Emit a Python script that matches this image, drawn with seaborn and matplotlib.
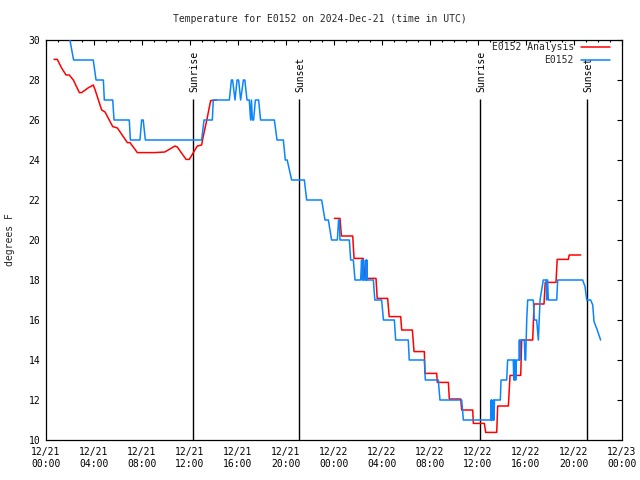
import matplotlib
matplotlib.use("Agg")
import numpy as np
import pandas as pd
import matplotlib.pyplot as plt
from matplotlib.lines import Line2D
import seaborn as sns

# --- data (x = hours since 12/21 00:00 UTC) ---
obs_hours = [1.9, 2.3, 3.94, 4.17, 4.78, 4.86, 5.56, 5.67, 6.94, 7.03, 7.83, 7.97, 8.1, 8.28,
             12.97, 13.17, 13.86, 13.94, 15.28, 15.45, 15.55, 15.75, 15.92, 16.05, 16.22,
             16.45, 16.57, 16.75, 16.94, 17.05, 17.12, 17.2, 17.3, 17.45, 17.72, 17.88,
             19.03, 19.25, 19.78, 19.94, 20.1, 20.47, 21.53, 21.72, 22.97, 23.25, 23.53,
             23.8, 24.28, 24.38, 24.44, 24.5, 25.28, 25.39, 25.61, 25.75, 26.22, 26.3,
             26.34, 26.38, 26.42, 26.46, 26.5, 26.64, 26.67, 26.7, 26.73, 26.77, 27.28,
             27.4, 27.97, 28.12, 29.03, 29.14, 30.19, 30.27, 31.53, 31.61, 32.69, 32.83,
             34.64, 34.78, 37.06, 37.09, 37.12, 37.15, 37.18, 37.28, 37.31, 37.34, 37.37,
             37.4, 37.86, 37.92, 38.39, 38.47, 38.94, 38.98, 39.02, 39.06, 39.1, 39.14,
             39.2, 39.42, 39.45, 39.48, 39.52, 39.86, 39.92, 39.97, 40.06, 40.14, 40.61,
             40.69, 40.89, 41.03, 41.17, 41.44, 41.68, 41.72, 41.76, 41.8, 41.86, 42.56,
             42.64, 44.72, 44.92, 45.06, 45.39, 45.56, 45.67, 45.89, 46.22]
obs_temp = [30.3, 29, 29, 28, 28, 27, 27, 26, 26, 25, 25, 26, 26, 25,
            25, 26, 26, 27, 27, 28, 28, 27, 28, 28, 27,
            28, 28, 27, 27, 26, 27, 26, 26, 27, 27, 26,
            26, 25, 25, 24, 24, 23, 23, 22, 22, 21, 21,
            20, 20, 21, 21, 20, 20, 19, 19, 18, 18, 19,
            18, 19, 18, 19, 18, 18, 19, 18, 19, 18, 18,
            17, 17, 16, 16, 15, 15, 14, 14, 13, 13, 12,
            12, 11, 11, 12, 11, 12, 11, 11, 12, 11, 12,
            12, 12, 13, 13, 14, 14, 13, 14, 13, 14, 13,
            14, 14, 15, 14, 15, 15, 14, 14, 16, 17, 17,
            16, 16, 15, 17, 18, 18, 17, 18, 18, 17, 17,
            18, 18, 17.67, 17, 17, 16.75, 15.92, 15.58, 15.0]

ana_hours_a = [0.67, 0.94, 1.3, 1.67, 1.94, 2.28, 2.78, 2.97, 3.5, 3.94, 4.08, 4.64, 4.92,
               5.56, 5.95, 6.78, 7.0, 7.61, 9.08, 9.9, 10.75, 10.94, 11.67, 11.94, 12.28,
               12.61, 12.97, 13.1, 13.4, 13.72, 14.2]
ana_temp_a = [29.03, 29.03, 28.6, 28.25, 28.25, 28.0, 27.37, 27.37, 27.6, 27.75, 27.53, 26.5,
              26.4, 25.67, 25.6, 24.87, 24.87, 24.37, 24.37, 24.4, 24.7, 24.65, 24.03, 24.03,
              24.37, 24.7, 24.75, 25.17, 26.0, 26.97, 27.0]
ana_hours_b = [24.03, 24.5, 24.62, 25.56, 25.67, 26.44, 26.58, 27.5, 27.6, 28.47, 28.6, 29.56,
               29.64, 30.53, 30.67, 31.53, 31.58, 32.56, 32.61, 33.53, 33.61, 34.56, 34.64,
               35.56, 35.61, 36.53, 36.64, 37.56, 37.64, 38.53, 38.67, 39.56, 39.64, 40.56,
               40.67, 41.5, 41.6, 42.5, 42.6, 43.53, 43.6, 44.56]
ana_temp_b = [21.08, 21.08, 20.2, 20.2, 19.08, 19.08, 18.08, 18.08, 17.08, 17.08, 16.17, 16.17,
              15.5, 15.5, 14.42, 14.42, 13.33, 13.33, 12.88, 12.88, 12.05, 12.05, 11.5,
              11.5, 10.83, 10.83, 10.38, 10.38, 11.7, 11.7, 13.23, 13.23, 15.0, 15.0,
              16.8, 16.8, 17.88, 17.88, 19.03, 19.03, 19.25, 19.25]

sun_hours = [12.27, 21.1, 36.18, 45.1]
sun_names = ["Sunrise", "Sunset", "Sunrise", "Sunset"]

tick_hours = list(range(0, 49, 4))
tick_labels = ["12/21\n00:00", "12/21\n04:00", "12/21\n08:00", "12/21\n12:00",
               "12/21\n16:00", "12/21\n20:00", "12/22\n00:00", "12/22\n04:00",
               "12/22\n08:00", "12/22\n12:00", "12/22\n16:00", "12/22\n20:00",
               "12/23\n00:00"]

RED = "#ff0000"
BLUE = "#0a84ff"

sns.set_theme(style="white")
plt.rcParams["font.family"] = ["DejaVu Sans Mono"]

obs = pd.DataFrame({"hour": obs_hours, "temp": obs_temp})
ana = pd.concat([
    pd.DataFrame({"hour": ana_hours_a, "temp": ana_temp_a, "seg": 0}),
    pd.DataFrame({"hour": ana_hours_b, "temp": ana_temp_b, "seg": 1}),
])

fig = plt.figure(figsize=(6.4, 4.8), dpi=100)
ax = fig.add_axes([46 / 640, 40 / 480, 576 / 640, 400 / 480])

# sunrise / sunset markers
for h, name in zip(sun_hours, sun_names):
    ax.vlines(h, 10, 27.05, color="black", lw=1.0, zorder=1)
    ax.text(h + 0.1, 27.4, name, rotation=90, ha="center", va="bottom",
            fontsize=7, color="black")

sns.lineplot(data=ana, x="hour", y="temp", units="seg", estimator=None,
             color=RED, lw=1.1, ax=ax, zorder=2)
sns.lineplot(data=obs, x="hour", y="temp", estimator=None, sort=False,
             color=BLUE, lw=1.1, ax=ax, zorder=3)

ax.set_xlim(0, 48)
ax.set_ylim(10, 30)
ax.set_xticks(tick_hours)
ax.set_xticklabels(tick_labels, linespacing=1.3)
ax.set_xticks(range(0, 49), minor=True)
ax.set_yticks(range(10, 31, 2))
ax.set_xlabel("")
ax.set_ylabel("")
ax.tick_params(axis="both", which="both", direction="in", top=True, right=True,
               labelsize=7, colors="black", width=0.8)
ax.tick_params(axis="both", which="major", length=3.4)
ax.tick_params(axis="x", which="major", pad=5)
ax.tick_params(axis="y", which="major", pad=4)
ax.tick_params(axis="x", which="minor", length=1.6)
for s in ax.spines.values():
    s.set_color("black")
    s.set_linewidth(0.9)

handles = [Line2D([], [], color=RED, lw=1.1), Line2D([], [], color=BLUE, lw=1.1)]
ax.legend(handles, ["E0152 Analysis", "E0152"], loc="upper right",
          bbox_to_anchor=(0.979, 0.995), markerfirst=False, frameon=False,
          fontsize=7, handlelength=3.0, handletextpad=0.7, labelspacing=0.35,
          borderaxespad=0, borderpad=0)

fig.text(0.5, 1 - 19 / 480, "Temperature for E0152 on 2024-Dec-21 (time in UTC)",
         ha="center", va="center", fontsize=7)
fig.text(10 / 640, 0.5, "degrees F", rotation=90, ha="center", va="center", fontsize=7)

fig.savefig("out.png", dpi=100)
